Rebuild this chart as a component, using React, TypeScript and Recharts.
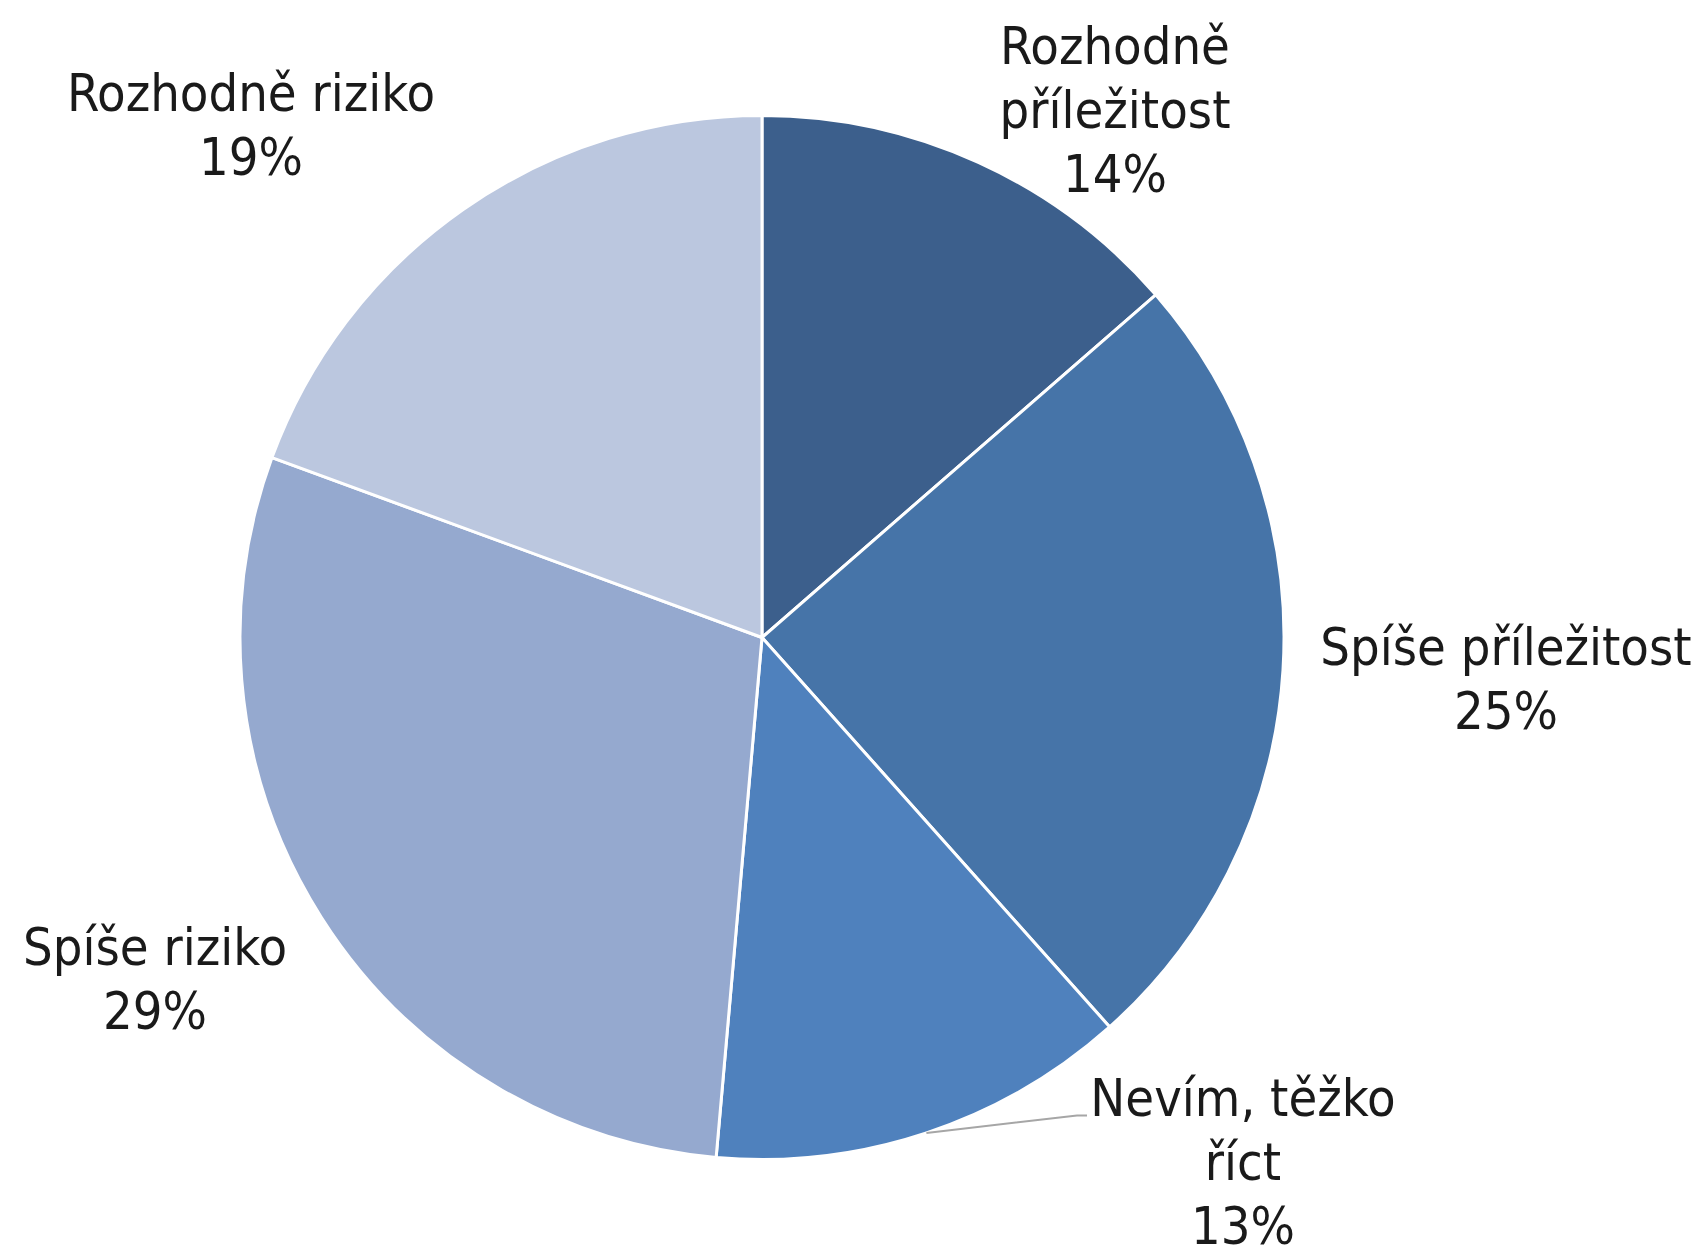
import React from 'react';
import { PieChart, Pie, Cell } from 'recharts';

const CATEGORIES = [
  ['Rozhodně', 'příležitost'],
  ['Spíše příležitost'],
  ['Nevím, těžko', 'říct'],
  ['Spíše riziko'],
  ['Rozhodně riziko'],
];
const VALUES = [13.6, 24.8, 13.0, 29.2, 19.4];
const COLORS = ['#3C5F8C', '#4674A8', '#4F81BD', '#95A9CF', '#BBC7DF'];
// label block placement relative to the pie centre (first baseline)
const LABEL_LAYOUT = [
  { dx: 353, dy: -574 },
  { dx: 744, dy: 27 },
  { dx: 481, dy: 478 },
  { dx: -607, dy: 327 },
  { dx: -511, dy: -527 },
];
const LEADER = [false, false, true, false, false];

const data = CATEGORIES.map((c, i) => ({ name: c.join(' '), lines: c, value: VALUES[i] }));

const FONT = 'Tahoma, "DejaVu Sans Condensed", "DejaVu Sans", sans-serif';
const FS = 52;
const LH = 64;
const RAD = Math.PI / 180;

const renderLabel = (props: any) => {
  const { cx, cy, index, midAngle, outerRadius, value } = props;
  const lay = LABEL_LAYOUT[index];
  const x = cx + lay.dx;
  const y = cy + lay.dy;
  const lines = [...CATEGORIES[index], `${Math.round(value)}%`];
  let leader = null;
  if (LEADER[index]) {
    const sx = cx + outerRadius * Math.cos(-midAngle * RAD);
    const sy = cy + outerRadius * Math.sin(-midAngle * RAD);
    const ex = x - 166;
    const ey = y;
    leader = (
      <polyline
        points={`${sx},${sy} ${ex},${ey} ${ex + 10},${ey}`}
        fill="none"
        stroke="#A6A6A6"
        strokeWidth={2}
      />
    );
  }
  return (
    <g key={`lbl-${index}`}>
      {leader}
      <text x={x} y={y} textAnchor="middle" fill="#1A1A1A" fontFamily={FONT} fontSize={FS}>
        {lines.map((l, i) => (
          <tspan key={i} x={x} dy={i === 0 ? 0 : LH}>
            {l}
          </tspan>
        ))}
      </text>
    </g>
  );
};

export default function App() {
  return (
    <div style={{ position: 'absolute', left: 0, top: 0, width: 1702, height: 1250, background: '#fff' }}>
      <PieChart width={1702} height={1250} margin={{ top: 0, right: 0, bottom: 0, left: 0 }}>
        <Pie
          data={data}
          dataKey="value"
          nameKey="name"
          cx={762}
          cy={637.5}
          outerRadius={522}
          startAngle={90}
          endAngle={-270}
          stroke="#FFFFFF"
          strokeWidth={3}
          label={renderLabel}
          labelLine={false}
          isAnimationActive={false}
        >
          {data.map((d, i) => (
            <Cell key={i} fill={COLORS[i]} />
          ))}
        </Pie>
      </PieChart>
    </div>
  );
}
